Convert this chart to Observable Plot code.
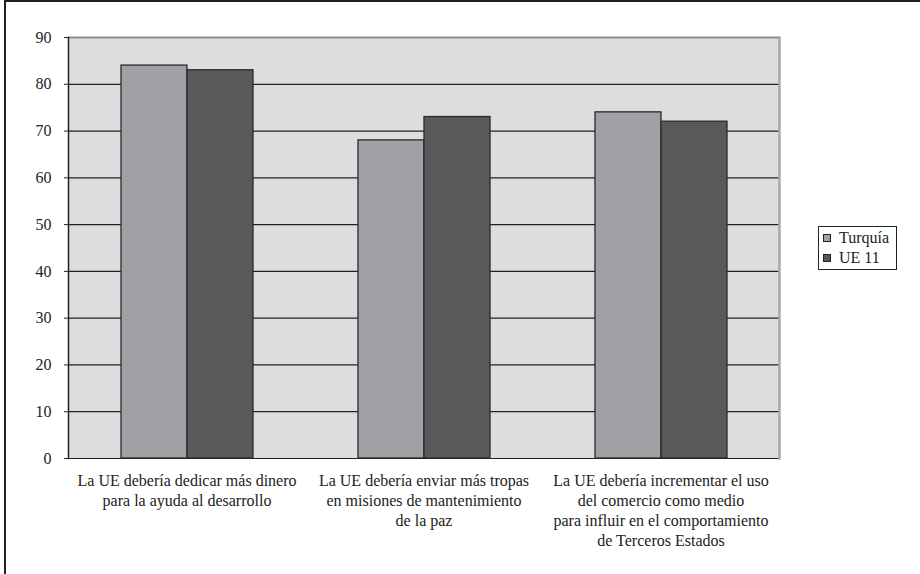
<!DOCTYPE html>
<html>
<head>
<meta charset="utf-8">
<script src="https://cdn.jsdelivr.net/npm/d3@7"></script>
<script src="https://cdn.jsdelivr.net/npm/@observablehq/plot@0.6"></script>
<style>
  body { margin: 0; background: #fff; }
  #chart { position: relative; width: 920px; height: 574px; overflow: hidden; font-family: "Liberation Serif", "Times New Roman", "DejaVu Serif", serif; color: #222; }
  #border { position: absolute; left: 4px; top: 0; width: 920px; height: 574px; border-left: 2px solid #222; border-top: 2px solid #222; box-sizing: border-box; pointer-events: none; }
  #legend { position: absolute; left: 818px; top: 226px; width: 79px; height: 44px; box-sizing: border-box; border: 1px solid #222; background: #fff; padding: 1px 0 0 4px; font-size: 16px; line-height: 20px; }
  #legend .item { display: flex; align-items: center; white-space: nowrap; }
  #legend .sw { width: 6px; height: 6px; border: 1px solid #222; margin-right: 8px; flex: none; }
</style>
</head>
<body>
<div id="chart"><div id="border"></div></div>
<script>
// Survey statements (one group of bars each)
const categories = [
  "La UE debería dedicar más dinero\npara la ayuda al desarrollo",
  "La UE debería enviar más tropas\nen misiones de mantenimiento\nde la paz",
  "La UE debería incrementar el uso\ndel comercio como medio\npara influir en el comportamiento\nde Terceros Estados"
];
const series = ["Turquía", "UE 11"];
const turquia = [84, 68, 74];
const ue11 = [83, 73, 72];
const yTicks = [0, 10, 20, 30, 40, 50, 60, 70, 80, 90];
const colors = ["#a0a1a5", "#58595b"];

const rows = categories.flatMap((c, i) => [
  {category: c, series: series[0], value: turquia[i]},
  {category: c, series: series[1], value: ue11[i]}
]);

const serif = "'Liberation Serif', 'Times New Roman', 'DejaVu Serif', serif";

const chart = Plot.plot({
  width: 920,
  height: 574,
  marginLeft: 67,
  marginRight: 141,
  marginTop: 37,
  marginBottom: 116,
  style: {fontFamily: serif, fontSize: "16px", color: "#222", background: "transparent"},
  fx: {domain: categories, padding: 0},
  x: {domain: series, paddingInner: 0, paddingOuter: 0.77, axis: null},
  y: {domain: [0, 90]},
  color: {domain: series, range: colors},
  marks: [
    Plot.frame({fill: "#dcdddf", stroke: "#dcdddf", strokeWidth: 1}),
    Plot.gridY(yTicks.filter(t => t < 90), {stroke: "#222", strokeOpacity: 1, strokeWidth: 1.2}),
    Plot.ruleY([90], {stroke: "#8c8c8c", strokeWidth: 2}),
    Plot.frame({anchor: "left", stroke: "#222", strokeWidth: 1.5, fx: categories[0]}),
    Plot.frame({anchor: "right", stroke: "#a8a8a8", strokeWidth: 2.5, fx: categories[2]}),
    Plot.barY(rows, {fx: "category", x: "series", y: "value", fill: "series", stroke: "#2a2a2a", strokeWidth: 1.3}),
    Plot.axisY({ticks: yTicks, tickSize: 4, tickPadding: 13, fontSize: 16, label: null, stroke: "#222"}),
    Plot.axisFx({anchor: "bottom", tickSize: 0, tickPadding: 13, fontSize: 16, lineHeight: 1.25, label: null})
  ]
});
document.getElementById("chart").prepend(chart);

// Legend
const legend = document.createElement("div");
legend.id = "legend";
series.forEach((s, i) => {
  const item = document.createElement("div");
  item.className = "item";
  const sw = document.createElement("span");
  sw.className = "sw";
  sw.style.background = colors[i];
  item.append(sw, document.createTextNode(s));
  legend.append(item);
});
document.getElementById("chart").append(legend);
</script>
</body>
</html>
